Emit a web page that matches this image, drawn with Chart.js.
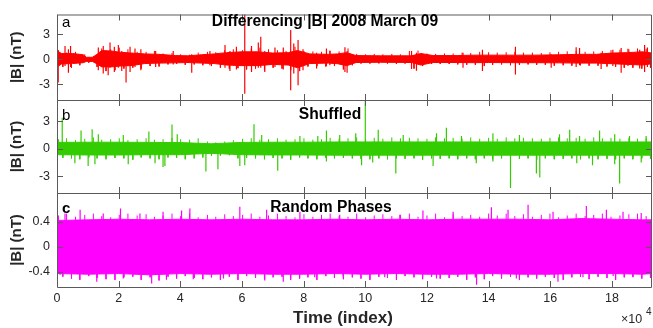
<!DOCTYPE html>
<html>
<head>
<meta charset="utf-8">
<script src="https://cdn.jsdelivr.net/npm/chart.js@4.4.1/dist/chart.umd.min.js"></script>
<style>
  html, body { margin: 0; padding: 0; background: #fff; }
  #wrap { position: relative; width: 653px; height: 328px; }
  #wrap canvas { position: absolute; left: 0; top: 0; }
</style>
</head>
<body>
<div id="wrap">
  <canvas id="panelA" width="653" height="328"></canvas>
  <canvas id="panelB" width="653" height="328"></canvas>
  <canvas id="panelC" width="653" height="328"></canvas>
</div>
<script>
// x values are in units of 1e4 samples
const xTicks = [0, 2, 4, 6, 8, 10, 12, 14, 16, 18];
const yTicksAB = [-3, 0, 3];
const yTicksC = [-0.4, 0, 0.4];

// positions of the short excursions that make the ragged edge of each band
const fringeX = [
  0.05, 0.19, 0.31, 0.47, 0.60, 0.74, 0.90, 1.03, 1.18, 1.30,
  1.45, 1.59, 1.74, 1.88, 2.02, 2.17, 2.30, 2.46, 2.60, 2.73,
  2.89, 3.02, 3.16, 3.31, 3.44, 3.60, 3.73, 3.88, 4.01, 4.16,
  4.30, 4.45, 4.58, 4.73, 4.88, 5.01, 5.15, 5.30, 5.44, 5.59,
  5.72, 5.87, 6.02, 6.15, 6.30, 6.44, 6.58, 6.73, 6.86, 7.01,
  7.15, 7.30, 7.43, 7.58, 7.72, 7.87, 8.01, 8.14, 8.30, 8.43,
  8.58, 8.72, 8.86, 9.00, 9.15, 9.29, 9.44, 9.58, 9.72, 9.86,
  10.01, 10.15, 10.29, 10.44, 10.57, 10.72, 10.86, 11.01, 11.14, 11.29,
  11.43, 11.58, 11.71, 11.86, 12.00, 12.15, 12.28, 12.43, 12.57, 12.72,
  12.85, 13.00, 13.14, 13.29, 13.42, 13.57, 13.71, 13.86, 14.00, 14.13,
  14.28, 14.42, 14.57, 14.71, 14.85, 15.00, 15.13, 15.28, 15.42, 15.56,
  15.71, 15.84, 15.99, 16.13, 16.27, 16.42, 16.55, 16.70, 16.84, 16.98,
  17.13, 17.26, 17.41, 17.55, 17.69, 17.84, 17.97, 18.12, 18.26, 18.40,
  18.55, 18.68, 18.83, 18.97, 19.11, 19.25
];

// a: differencing |B| (dense core, ragged edge, isolated spikes)
const aX  = [0, 0.15, 0.5, 0.85, 0.95, 1.15, 1.3, 1.45, 1.75, 2.05, 2.4, 2.85, 3.3, 3.85, 4.25, 4.7, 5.1, 5.5, 6.0, 6.5, 7.0, 7.5, 7.8, 8.2, 8.8, 9.1, 9.4, 9.7, 10.5, 11.5, 11.8, 12.2, 13.0, 13.5, 14.0, 14.8, 15.5, 16.3, 17.0, 17.5, 18.0, 18.5, 19.0, 19.3];
const aHi = [1.0, 0.7, 0.7, 0.55, 0.25, 0.25, 0.6, 1.05, 1.0, 0.85, 0.75, 0.65, 0.6, 0.45, 0.42, 0.55, 0.65, 0.8, 0.9, 0.9, 0.75, 0.8, 1.05, 0.65, 0.6, 0.65, 0.8, 0.45, 0.42, 0.42, 0.7, 0.45, 0.45, 0.5, 0.5, 0.5, 0.5, 0.55, 0.6, 0.6, 0.75, 0.8, 0.9, 0.75];
const aLo = [-0.9, -0.55, -0.5, -0.4, -0.25, -0.25, -0.55, -0.9, -0.9, -0.8, -0.75, -0.5, -0.45, -0.42, -0.38, -0.45, -0.5, -0.68, -0.75, -0.75, -0.6, -0.68, -1.0, -0.5, -0.45, -0.52, -0.75, -0.38, -0.35, -0.38, -0.68, -0.38, -0.38, -0.4, -0.38, -0.4, -0.4, -0.42, -0.45, -0.45, -0.52, -0.6, -0.68, -0.52];
const aFringe = [
  1.1, -0.9, 0.8, -1.0, 0.9, -0.7, 0.6, -0.4, 0.35, -0.9,
  1.3, -1.4, 1.2, -1.3, 1.4, -1.1, 1.2, -1.0, 0.9, -1.1,
  0.9, -0.8, 1.0, -0.85, 0.7, -0.6, 0.75, -0.55, 0.6, -0.65,
  0.55, -0.6, 0.8, -0.7, 0.9, -0.8, 0.85, -1.0, 1.1, -1.1,
  1.2, -1.05, 1.1, -1.2, 1.3, -1.1, 1.4, -1.3, 1.2, -1.0,
  1.1, -1.1, 1.0, -1.3, 1.5, -1.4, 1.0, -0.85, 0.95, -0.8,
  0.9, -0.85, 1.0, -0.8, 0.95, -1.2, 1.3, -0.7, 0.65, -0.5,
  0.6, -0.5, 0.65, -0.48, 0.6, -0.5, 0.65, -0.55, 0.6, -0.5,
  1.0, -1.1, 1.05, -0.8, 0.7, -0.55, 0.65, -0.55, 0.7, -0.55,
  0.7, -0.6, 0.8, -0.65, 0.75, -0.65, 0.9, -0.8, 0.85, -0.65,
  0.8, -0.6, 0.85, -0.7, 0.9, -0.65, 0.8, -0.6, 0.8, -0.65,
  0.75, -0.65, 0.85, -0.75, 0.9, -0.7, 0.95, -0.75, 1.0, -0.7,
  0.9, -0.75, 0.95, -0.75, 1.0, -0.85, 1.1, -0.9, 1.15, -1.0,
  1.2, -1.0, 1.3, -1.1, 1.25, -1.0
];
const aSpikeX  = [0, 0.04, 0.26, 0.37, 0.44, 1.34, 1.5, 1.66, 1.72, 1.86, 1.99, 2.1, 2.24, 2.37, 2.53, 2.72, 3.2, 3.77, 4.37, 4.96, 5.45, 5.61, 5.82, 6.09, 6.31, 6.53, 6.61, 6.74, 7.07, 7.34, 7.58, 7.68, 7.82, 7.98, 8.42, 8.74, 8.85, 9.34, 9.41, 11.5, 11.66, 13.17, 13.8, 14.87, 16.03, 16.84, 16.95, 17.65, 18.03, 18.3, 18.52, 18.9, 19.06, 19.15];
const aSpikeLo = [-1.0, -2.75, -0.8, -1.6, -0.9, -1.3, -1.7, -1.9, -1.0, -1.5, -1.0, -1.4, -2.75, -1.5, -0.9, -1.3, -0.9, -0.6, -1.6, -0.7, -1.0, -1.4, -1.2, -4.1, -1.5, -1.0, -1.0, -1.5, -0.9, -1.2, -3.7, -1.7, -3.1, -1.3, -1.1, -0.8, -0.7, -1.5, -1.6, -1.15, -1.35, -1.0, -1.4, -1.8, -1.0, -0.9, -0.7, -1.15, -0.8, -1.6, -0.8, -1.1, -1.5, -0.9];
const aSpikeHi = [2.3, 1.0, 1.6, 1.2, 1.6, 1.4, 1.6, 1.0, 2.0, 1.5, 1.7, 1.0, 0.8, 1.5, 1.3, 1.2, 1.0, 1.0, 0.6, 1.0, 1.7, 1.0, 1.5, 5.4, 1.6, 2.0, 2.7, 1.0, 1.4, 1.4, 3.5, 1.9, 2.3, 1.2, 0.8, 1.3, 1.05, 1.45, 1.0, 1.0, 0.8, 0.8, 1.15, 1.5, 0.6, 1.45, 1.35, 0.8, 1.15, 1.35, 1.25, 1.15, 1.7, 1.4];

// b: shuffled
const bX  = [0, 1, 2, 3, 4, 5, 6, 7, 8, 9, 10, 11, 12, 13, 14, 15, 16, 17, 18, 19, 19.3];
const bHi = [0.7, 0.72, 0.72, 0.7, 0.68, 0.55, 0.7, 0.72, 0.72, 0.75, 0.75, 0.75, 0.75, 0.75, 0.75, 0.75, 0.75, 0.75, 0.75, 0.75, 0.75];
const bLo = [-0.65, -0.68, -0.68, -0.65, -0.65, -0.5, -0.65, -0.68, -0.68, -0.7, -0.7, -0.7, -0.7, -0.7, -0.7, -0.7, -0.7, -0.7, -0.7, -0.7, -0.7];
const bFringe = [
  1.05, -1.0, 1.15, -1.05, 0.95, -1.15, 1.1, -0.95, 1.25, -1.05,
  1.0, -1.15, 1.05, -1.0, 1.15, -1.05, 0.95, -1.2, 1.05, -0.95,
  1.15, -1.05, 1.0, -1.15, 1.05, -0.95, 1.2, -1.0, 1.05, -1.15,
  1.0, -1.05, 1.15, -0.95, 0.8, -0.75, 0.7, -0.75, 0.8, -0.7,
  0.95, -1.05, 1.1, -1.0, 1.15, -1.05, 1.0, -1.15, 1.05, -1.0,
  1.15, -1.05, 1.0, -1.2, 1.05, -0.95, 1.15, -1.05, 1.0, -1.15,
  1.05, -1.0, 1.2, -1.05, 1.1, -1.0, 1.15, -1.05, 1.25, -1.1,
  1.05, -1.15, 1.2, -1.05, 1.1, -1.15, 1.25, -1.05, 1.15, -1.1,
  1.2, -1.05, 1.15, -1.2, 1.1, -1.05, 1.25, -1.1, 1.15, -1.05,
  1.2, -1.15, 1.1, -1.05, 1.25, -1.15, 1.1, -1.05, 1.2, -1.15,
  1.1, -1.05, 1.25, -1.15, 1.15, -1.1, 1.2, -1.05, 1.15, -1.2,
  1.1, -1.05, 1.2, -1.15, 1.25, -1.1, 1.15, -1.05, 1.2, -1.15,
  1.1, -1.05, 1.25, -1.15, 1.15, -1.1, 1.2, -1.15, 1.1, -1.05,
  1.2, -1.15, 1.1, -1.05, 1.15, -1.1
];
const bSpikeX = [0.17, 0.58, 0.78, 1.01, 1.14, 1.23, 1.34, 2.15, 2.31, 2.98, 3.18, 3.44, 3.5, 3.73, 3.9, 4.83, 5.22, 5.93, 6.09, 6.39, 6.64, 7.16, 7.88, 8.46, 8.74, 8.74, 9.17, 9.69, 9.88, 10.0, 10.24, 10.42, 10.99, 11.23, 12.2, 12.31, 12.63, 13.12, 13.6, 14.14, 14.14, 14.71, 15.0, 15.55, 15.66, 16.3, 16.63, 16.86, 16.95, 17.37, 17.6, 18.09, 18.09, 18.25, 18.57, 18.95, 19.11];
const bSpikeY = [3.4, -1.6, 2.0, -1.9, 2.15, -1.7, 1.6, 1.5, -1.7, 1.9, -1.6, -2.0, -1.9, 2.65, 1.6, -2.5, -2.25, -1.9, -1.8, 2.7, 1.5, -2.4, 1.4, 1.4, 2.0, -1.4, 1.5, 1.7, -1.8, 5.4, -1.5, 2.1, -2.7, 1.5, -1.9, 1.7, 2.3, 1.4, -1.6, 1.7, -1.4, -4.3, 1.5, -2.7, -3.15, 1.6, 2.1, -1.6, 1.4, -1.8, 2.0, 1.6, -1.7, -3.8, 1.4, -1.5, 1.4];

// c: random phases
const cX  = [0, 1, 2, 3, 4, 5, 6, 7, 8, 9, 10, 11, 12, 13, 14, 15, 16, 17, 18, 19, 19.3];
const cHi = [0.42, 0.43, 0.44, 0.43, 0.44, 0.43, 0.44, 0.43, 0.43, 0.44, 0.43, 0.44, 0.43, 0.44, 0.44, 0.44, 0.43, 0.45, 0.44, 0.43, 0.43];
const cLo = [-0.43, -0.44, -0.43, -0.45, -0.43, -0.44, -0.43, -0.44, -0.44, -0.43, -0.44, -0.43, -0.44, -0.44, -0.43, -0.44, -0.44, -0.43, -0.43, -0.44, -0.43];
const cFringe = [
  0.5, -0.48, 0.53, -0.51, 0.48, -0.53, 0.51, -0.47, 0.53, -0.5,
  0.49, -0.52, 0.47, -0.53, 0.51, -0.49, 0.53, -0.48, 0.5, -0.53,
  0.52, -0.49, 0.48, -0.54, 0.5, -0.48, 0.53, -0.51, 0.49, -0.47,
  0.53, -0.5, 0.47, -0.52, 0.51, -0.49, 0.48, -0.53, 0.52, -0.48,
  0.49, -0.53, 0.51, -0.47, 0.53, -0.5, 0.48, -0.52, 0.5, -0.49,
  0.53, -0.48, 0.49, -0.53, 0.47, -0.51, 0.52, -0.49, 0.48, -0.53,
  0.51, -0.47, 0.53, -0.5, 0.49, -0.52, 0.48, -0.49, 0.53, -0.51,
  0.47, -0.53, 0.5, -0.48, 0.52, -0.5, 0.49, -0.53, 0.51, -0.47,
  0.53, -0.49, 0.48, -0.52, 0.5, -0.48, 0.53, -0.51, 0.47, -0.5,
  0.52, -0.48, 0.49, -0.53, 0.51, -0.49, 0.48, -0.52, 0.53, -0.47,
  0.5, -0.51, 0.53, -0.48, 0.49, -0.53, 0.52, -0.49, 0.48, -0.51,
  0.51, -0.48, 0.53, -0.5, 0.47, -0.53, 0.5, -0.49, 0.53, -0.48,
  0.49, -0.52, 0.51, -0.48, 0.53, -0.5, 0.48, -0.53, 0.5, -0.49,
  0.52, -0.48, 0.53, -0.51, 0.49, -0.5
];
const cSpikeX = [0.1, 0.26, 0.75, 1.29, 1.5, 2.06, 2.15, 2.69, 3.07, 3.44, 3.55, 4.04, 4.31, 4.42, 5.4, 5.93, 6.74, 6.8, 7.34, 7.88, 8.36, 9.17, 9.28, 10.63, 11.12, 11.87, 12.31, 12.85, 13.61, 14.09, 14.63, 14.9, 15.28, 16.09, 16.25, 17.06, 17.17, 17.82, 18.04, 18.36, 18.68, 18.95];
const cSpikeY = [-0.45, 0.53, 0.59, -0.56, 0.53, 0.61, -0.51, 0.53, -0.59, 0.56, -0.53, 0.58, 0.61, -0.52, -0.51, 0.64, -0.54, 0.59, -0.56, 0.56, -0.49, 0.51, -0.47, -0.49, 0.51, 0.58, -0.51, 0.56, -0.61, 0.63, 0.59, -0.51, 0.67, 0.56, -0.56, -0.49, 0.65, 0.59, -0.47, 0.56, -0.49, 0.54];

const FONT = '"Liberation Sans", Arial, Helvetica, sans-serif';
const AXIS = '#262626';

function toPoints(xs, ys) {
  return xs.map((x, i) => ({ x, y: ys[i] }));
}

// each spike becomes a short vertical segment, separated by gaps
function spikePoints(xs, lo, hi) {
  const pts = [];
  xs.forEach((x, i) => {
    pts.push({ x, y: lo[i] }, { x, y: hi[i] }, { x, y: null });
  });
  return pts;
}

function framePlugin(p) {
  return {
    id: 'frame_' + p.id,
    afterDraw(chart) {
      const { ctx, chartArea: a, scales: { x, y } } = chart;
      ctx.save();
      ctx.strokeStyle = '#5a5a5a';
      ctx.lineWidth = 1;
      ctx.beginPath();
      ctx.rect(a.left + 0.5, a.top + 0.5, a.right - a.left - 1, a.bottom - a.top);
      xTicks.forEach(v => {
        const px = Math.round(x.getPixelForValue(v)) + 0.5;
        ctx.moveTo(px, a.top); ctx.lineTo(px, a.top + 6);
        ctx.moveTo(px, a.bottom); ctx.lineTo(px, a.bottom - 6);
      });
      p.yTicks.forEach(v => {
        const py = Math.round(y.getPixelForValue(v)) + 0.5;
        ctx.moveTo(a.left, py); ctx.lineTo(a.left + 6, py);
        ctx.moveTo(a.right, py); ctx.lineTo(a.right - 6, py);
      });
      ctx.stroke();

      ctx.fillStyle = '#000';
      ctx.textBaseline = 'middle';
      ctx.textAlign = 'center';
      ctx.font = 'bold 15.6px ' + FONT;
      ctx.fillText(p.title, p.titleX, p.titleY);
      ctx.textAlign = 'left';
      ctx.font = (p.letterBold ? 'bold ' : '') + '15px ' + FONT;
      ctx.fillText(p.letter, 62, p.titleY + 1);

      if (p.last) {
        // x tick labels, placed from the library's x scale
        ctx.fillStyle = AXIS;
        ctx.textAlign = 'center';
        ctx.font = '12.5px ' + FONT;
        xTicks.forEach(v => ctx.fillText(String(v), x.getPixelForValue(v), a.bottom + 12));

        ctx.font = 'bold 17px ' + FONT;
        ctx.fillText('Time (index)', 343, 318);
        ctx.textAlign = 'left';
        ctx.font = '12.5px ' + FONT;
        ctx.fillText('\u00d710', 621, 320);
        ctx.font = '10px ' + FONT;
        ctx.fillText('4', 646, 312);
      }
      ctx.restore();
    }
  };
}

function makePanel(p) {
  const ctx = document.getElementById(p.id).getContext('2d');
  const lineStyle = { borderColor: p.color, borderWidth: 1, fill: false, spanGaps: false };
  return new Chart(ctx, {
    type: 'line',
    data: {
      datasets: [
        { ...lineStyle, data: toPoints(p.xs, p.hi), backgroundColor: p.color, fill: '+1' },
        { ...lineStyle, data: toPoints(p.xs, p.lo) },
        { ...lineStyle, data: spikePoints(fringeX, fringeX.map(() => 0), p.fringe) },
        { ...lineStyle, borderWidth: 1.2, data: spikePoints(p.sx, p.slo, p.shi) }
      ]
    },
    options: {
      responsive: false,
      animation: false,
      events: [],
      elements: { point: { radius: 0 }, line: { tension: 0 } },
      layout: { padding: { top: p.top, bottom: p.bottom, left: 0, right: 1 } },
      plugins: { legend: { display: false }, tooltip: { enabled: false } },
      scales: {
        x: {
          type: 'linear',
          min: 0,
          max: 19.3,
          display: !!p.last,
          afterBuildTicks: s => { s.ticks = xTicks.map(v => ({ value: v })); },
          afterFit: s => { if (p.last) s.height = 41; },
          grid: { display: false, drawTicks: false },
          border: { display: false },
          ticks: { display: false }
        },
        y: {
          type: 'linear',
          min: p.ymin,
          max: p.ymax,
          afterBuildTicks: s => { s.ticks = p.yTicks.map(v => ({ value: v })); },
          afterFit: s => { s.width = 57; },
          grid: { display: false, drawTicks: false },
          border: { display: false },
          ticks: {
            color: AXIS,
            padding: 7,
            font: { family: FONT, size: 12.5 },
            callback: v => String(v)
          },
          title: {
            display: true,
            text: '|B| (nT)',
            color: AXIS,
            padding: { top: 8, bottom: 0 },
            font: { family: FONT, size: 15, weight: 'bold' }
          }
        }
      }
    },
    plugins: [framePlugin(p)]
  });
}

makePanel({
  id: 'panelA', color: '#ff0000', top: 8, bottom: 228,
  xs: aX, hi: aHi, lo: aLo, fringe: aFringe, sx: aSpikeX, slo: aSpikeLo, shi: aSpikeHi,
  ymin: -4.85, ymax: 5.35, yTicks: yTicksAB,
  title: 'Differencing |B| 2008 March 09', titleX: 325, titleY: 22, letter: 'a'
});

makePanel({
  id: 'panelB', color: '#33cc00', top: 100, bottom: 135,
  xs: bX, hi: bHi, lo: bLo, fringe: bFringe, sx: bSpikeX, slo: bSpikeX.map(() => 0), shi: bSpikeY,
  ymin: -4.85, ymax: 5.35, yTicks: yTicksAB,
  title: 'Shuffled', titleX: 330, titleY: 115, letter: 'b'
});

makePanel({
  id: 'panelC', color: '#ff00ff', top: 193, bottom: 0,
  xs: cX, hi: cHi, lo: cLo, fringe: cFringe, sx: cSpikeX, slo: cSpikeX.map(() => 0), shi: cSpikeY,
  ymin: -0.645, ymax: 0.86, yTicks: yTicksC,
  title: 'Random Phases', titleX: 331, titleY: 208, letter: 'c', letterBold: true,
  last: true
});
</script>
</body>
</html>
